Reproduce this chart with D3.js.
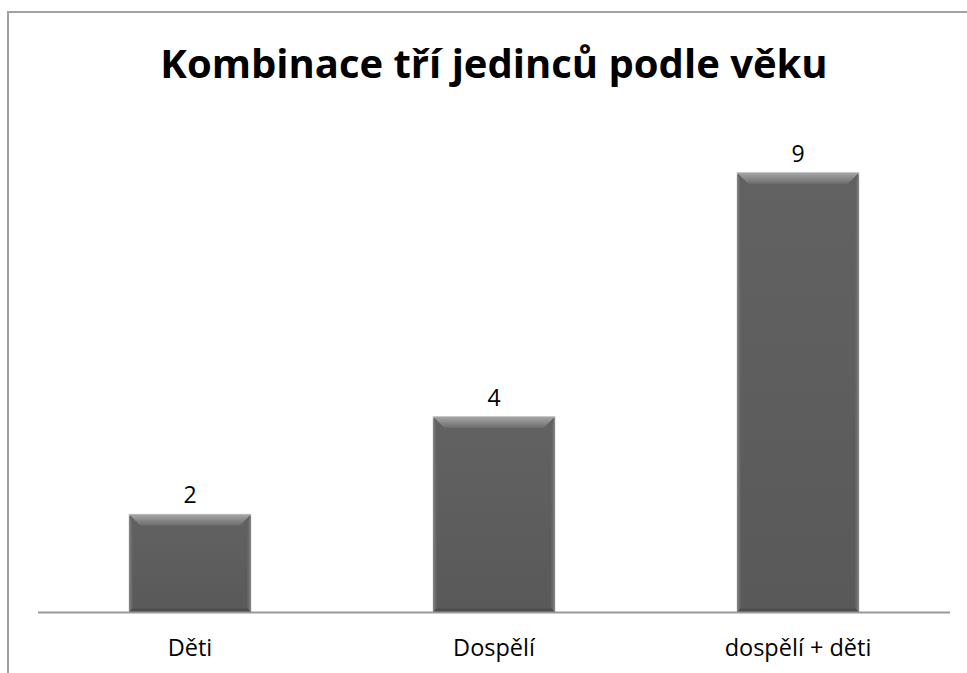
<!DOCTYPE html>
<html>
<head>
<meta charset="utf-8">
<script src="https://cdn.jsdelivr.net/npm/d3@7"></script>
<style>
  body { margin: 0; background: #fff; }
  svg { display: block; }
</style>
</head>
<body>
<div class="canvas"></div>
<script>
const categories = ["Děti", "Dospělí", "dospělí + děti"];
const values = [2, 4, 9];
const title = "Kombinace tří jedinců podle věku";

const dims = {width: 967, height: 673};
const plot = {left: 38, right: 950, top: 124, bottom: 612};

const svg = d3.select(".canvas").append("svg")
    .attr("width", dims.width)
    .attr("height", dims.height);

// chart frame (only top and left edges visible)
svg.append("path")
    .attr("d", `M8,${dims.height} V12 H${dims.width}`)
    .attr("fill", "none")
    .attr("stroke", "#a0a0a0")
    .attr("stroke-width", 2);

const x = d3.scaleBand()
    .domain(categories)
    .range([plot.left, plot.right])
    .paddingInner(0.6)
    .paddingOuter(0.3);

const y = d3.scaleLinear()
    .domain([0, 10])
    .range([plot.bottom, plot.top]);

// gradients for the bevel look
const defs = svg.append("defs");
const grad = (id, x2, y2, stops) => {
    const g = defs.append("linearGradient").attr("id", id)
        .attr("x1", 0).attr("y1", 0).attr("x2", x2).attr("y2", y2);
    stops.forEach(([o, c]) => g.append("stop").attr("offset", o).attr("stop-color", c));
};
grad("barBody", 0, 1, [["0%", "#626262"], ["100%", "#595959"]]);
grad("bevTop", 0, 1, [["0%", "#a6a6a6"], ["100%", "#6e6e6e"]]);
grad("bevLeft", 1, 0, [["0%", "#7a7a7a"], ["100%", "#5e5e5e"]]);
grad("bevRight", 1, 0, [["0%", "#5e5e5e"], ["100%", "#7a7a7a"]]);
grad("bevBottom", 0, 1, [["0%", "#535353"], ["100%", "#484848"]]);

const bars = svg.append("g").selectAll("g")
    .data(values)
    .join("g");

const bevTop = 11, bevSide = 4;

const bx0 = (d, i) => x(categories[i]);
const bx1 = (d, i) => x(categories[i]) + x.bandwidth();

bars.append("rect")
    .attr("x", bx0)
    .attr("y", d => y(d))
    .attr("width", x.bandwidth())
    .attr("height", d => y(0) - y(d))
    .attr("fill", "url(#barBody)")
    .attr("stroke", "#cfcfcf")
    .attr("stroke-width", 1.2);

// side bevels
bars.append("path")
    .attr("d", (d, i) => `M${bx0(d, i)},${y(d)} L${bx0(d, i) + bevSide},${y(d) + bevTop} V${y(0) - bevSide} L${bx0(d, i)},${y(0)} Z`)
    .attr("fill", "url(#bevLeft)");
bars.append("path")
    .attr("d", (d, i) => `M${bx1(d, i)},${y(d)} L${bx1(d, i) - bevSide},${y(d) + bevTop} V${y(0) - bevSide} L${bx1(d, i)},${y(0)} Z`)
    .attr("fill", "url(#bevRight)");

// top bevel
bars.append("path")
    .attr("d", (d, i) => `M${bx0(d, i)},${y(d)} H${bx1(d, i)} L${bx1(d, i) - bevTop},${y(d) + bevTop} H${bx0(d, i) + bevTop} Z`)
    .attr("fill", "url(#bevTop)");

// bottom bevel
bars.append("path")
    .attr("d", (d, i) => `M${bx0(d, i)},${y(0)} H${bx1(d, i)} L${bx1(d, i) - bevSide},${y(0) - bevSide} H${bx0(d, i) + bevSide} Z`)
    .attr("fill", "url(#bevBottom)");

// value labels
bars.append("text")
    .attr("x", (d, i) => x(categories[i]) + x.bandwidth() / 2)
    .attr("y", d => y(d) - 11)
    .attr("text-anchor", "middle")
    .attr("font-family", "'Open Sans', sans-serif")
    .attr("font-size", 23)
    .attr("fill", "#000")
    .text(d => d);

// x axis
const xAxis = svg.append("g")
    .attr("transform", `translate(0,${plot.bottom})`)
    .call(d3.axisBottom(x).tickSize(0).tickPadding(0));
xAxis.select(".domain")
    .attr("d", `M${plot.left},0.5H${plot.right}`)
    .attr("stroke", "#999")
    .attr("stroke-width", 2);
xAxis.selectAll("text")
    .attr("dy", null)
    .attr("y", 44)
    .attr("font-family", "'Open Sans', sans-serif")
    .attr("font-size", 23.5)
    .attr("fill", "#000");

// title
svg.append("text")
    .attr("x", (plot.left + plot.right) / 2)
    .attr("y", 78)
    .attr("text-anchor", "middle")
    .attr("font-family", "'Open Sans', sans-serif")
    .attr("font-weight", "bold")
    .attr("font-size", 40)
    .attr("fill", "#000")
    .text(title);
</script>
</body>
</html>
